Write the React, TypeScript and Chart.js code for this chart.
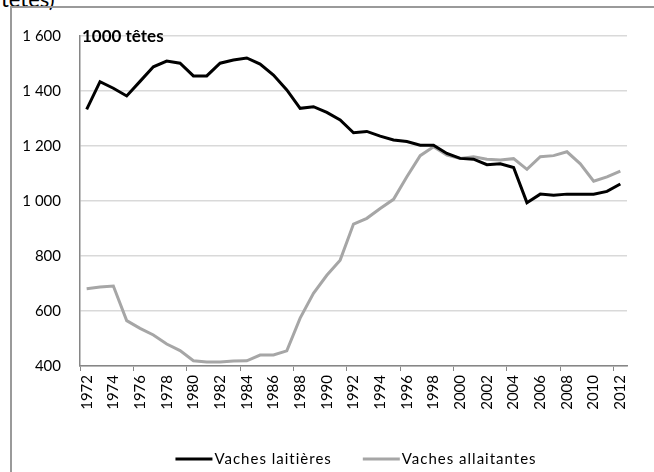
import React, { useEffect, useRef } from "react";
import { Chart, registerables } from "chart.js";

Chart.register(...registerables);

const years: string[] = [];
for (let y = 1972; y <= 2012; y++) years.push(String(y));

const laitieres = [
  1333, 1434, 1410, 1382, 1435, 1488, 1509, 1501, 1455, 1455,
  1501, 1513, 1520, 1498, 1458, 1404, 1337, 1343, 1322, 1295,
  1248, 1253, 1236, 1222, 1216, 1203, 1203, 1173, 1155, 1152,
  1132, 1135, 1122, 994, 1025, 1021, 1025, 1025, 1025, 1035, 1062,
];

const allaitantes = [
  681, 687, 691, 565, 537, 513, 480, 456, 419, 415,
  415, 418, 419, 440, 440, 455, 574, 664, 730, 785,
  916, 937, 973, 1006, 1088, 1165, 1197, 1167, 1155, 1161,
  1152, 1149, 1154, 1115, 1161, 1165, 1179, 1135, 1072, 1088, 1109,
];

const seriesNames = ["Vaches laitières", "Vaches allaitantes"];
const unitLabel = "1000 têtes";
const FONT = "Lato, 'Open Sans', sans-serif";

const unitPlugin = {
  id: "unitLabel",
  afterDraw(chart: any) {
    const { ctx, chartArea } = chart;
    ctx.save();
    ctx.font = `bold 17px ${FONT}`;
    ctx.fillStyle = "#000";
    ctx.textBaseline = "middle";
    ctx.textAlign = "left";
    ctx.fillText(unitLabel, chartArea.left + 2, chartArea.top + 1);
    ctx.restore();
  },
};

// Custom bottom legend: short line + label for each dataset, centred under the frame
const legendPlugin = {
  id: "customLegend",
  afterDraw(chart: any) {
    const { ctx } = chart;
    const lineW = 37;
    const gapText = 2;
    const gapItem = 31;
    ctx.save();
    ctx.font = `15px ${FONT}`;
    (ctx as any).letterSpacing = "1px";
    ctx.textBaseline = "middle";
    ctx.textAlign = "left";
    const items = chart.data.datasets.map((ds: any) => ({
      label: ds.label,
      color: ds.borderColor,
      width: lineW + gapText + ctx.measureText(ds.label).width,
    }));
    const total = items.reduce((s: number, it: any) => s + it.width, 0) + gapItem * (items.length - 1);
    let x = 356 - total / 2;
    const y = 459;
    for (const it of items) {
      ctx.strokeStyle = it.color;
      ctx.lineWidth = 3;
      ctx.beginPath();
      ctx.moveTo(x, y);
      ctx.lineTo(x + lineW, y);
      ctx.stroke();
      ctx.fillStyle = "#000";
      ctx.fillText(it.label, x + lineW + gapText, y);
      x += it.width + gapItem;
    }
    ctx.restore();
  },
};

export default function App() {
  const ref = useRef<HTMLCanvasElement>(null);
  useEffect(() => {
    if (!ref.current) return;
    const chart = new Chart(ref.current, {
      type: "line",
      data: {
        labels: years,
        datasets: [
          {
            label: seriesNames[0],
            data: laitieres,
            borderColor: "#000000",
            backgroundColor: "#000000",
            borderWidth: 3,
            pointRadius: 0,
            tension: 0,
          },
          {
            label: seriesNames[1],
            data: allaitantes,
            borderColor: "#a6a6a6",
            backgroundColor: "#a6a6a6",
            borderWidth: 3,
            pointRadius: 0,
            tension: 0,
          },
        ],
      },
      options: {
        animation: false,
        responsive: false,
        maintainAspectRatio: false,
        layout: { padding: { left: 0, right: 27, top: 36, bottom: 46 } },
        plugins: {
          tooltip: { enabled: false },
          legend: { display: false },
        },
        scales: {
          x: {
            offset: true,
            grid: {
              offset: true,
              drawOnChartArea: false,
              drawTicks: true,
              tickLength: 5,
              color: (ctx: any) =>
                typeof ctx.index === "number" && ctx.index % 4 === 0 ? "#868686" : "rgba(0,0,0,0)",
            },
            border: { display: true, color: "#868686", width: 1.5 },
            ticks: {
              autoSkip: false,
              maxRotation: 90,
              minRotation: 90,
              color: "#000",
              font: { family: FONT, size: 15 },
              padding: 4,
              callback: (_v: any, i: number) => (i % 2 === 0 ? years[i] : ""),
            },
            afterFit: (scale: any) => {
              scale.height = 60;
            },
          },
          y: {
            min: 400,
            max: 1600,
            ticks: {
              stepSize: 200,
              color: "#000",
              padding: 19,
              font: { family: FONT, size: 15 },
              callback: (v: any) => {
                const n = Number(v);
                return n >= 1000 ? `${Math.floor(n / 1000)} ${String(n % 1000).padStart(3, "0")}` : String(n);
              },
            },
            grid: { color: "#d9d9d9", lineWidth: 1.5, drawTicks: false },
            border: { display: true, color: "#868686", width: 1.5 },
            afterFit: (scale: any) => {
              scale.width = 80;
            },
          },
        },
      },
      plugins: [unitPlugin, legendPlugin],
    } as any);
    return () => chart.destroy();
  }, []);

  return (
    <div style={{ position: "fixed", left: 0, top: 0, width: 654, height: 472, overflow: "hidden", background: "#fff" }}>
      <div
        style={{
          position: "absolute",
          left: 1,
          top: -12,
          fontFamily: FONT,
          fontSize: 22,
          lineHeight: "22px",
          color: "#000",
        }}
      >
        têtes)
      </div>
      <div
        style={{
          position: "absolute",
          left: 10,
          top: 6,
          width: 700,
          height: 500,
          border: "2px solid #9a9a9a",
          boxSizing: "border-box",
        }}
      />
      <canvas ref={ref} width={654} height={472} style={{ position: "absolute", left: 0, top: 0 }} />
    </div>
  );
}
